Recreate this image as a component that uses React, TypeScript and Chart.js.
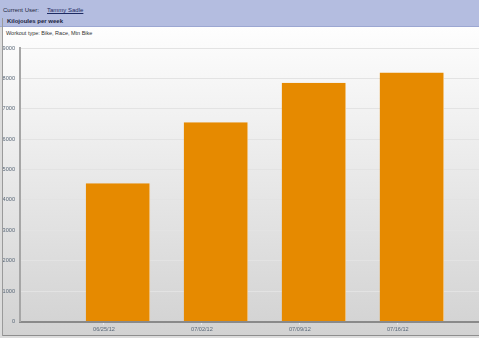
import React, { useEffect, useRef } from "react";
import { Chart, registerables } from "chart.js";

Chart.register(...registerables);

const weekLabels = ["06/25/12", "07/02/12", "07/09/12", "07/16/12"];
const kilojoules = [4550, 6560, 7860, 8190];
const weekTickDays = [7, 14, 21, 28];
const barDays = [8, 15, 22, 29];
const yMin = 0;
const yMax = 9000;
const yStep = 1000;

const FONT = "'Liberation Sans', Arial, sans-serif";

export default function App() {
  const ref = useRef<HTMLCanvasElement | null>(null);

  useEffect(() => {
    if (!ref.current) return;
    const chart = new Chart(ref.current, {
      type: "bar",
      data: {
        datasets: [
          {
            label: "Kilojoules",
            data: barDays.map((d, i) => ({ x: d, y: kilojoules[i] })),
            backgroundColor: "#e68a00",
            borderColor: "#f2c27a",
            borderWidth: { right: 1, top: 0, left: 0, bottom: 0 },
            borderSkipped: false,
            barPercentage: 1,
            categoryPercentage: 0.658,
          },
        ],
      },
      options: {
        responsive: false,
        animation: false,
        layout: { padding: { top: 10, right: 0, bottom: 0, left: 0 } },
        plugins: {
          legend: { display: false },
          tooltip: { enabled: false },
          title: { display: false },
        },
        scales: {
          x: {
            type: "linear",
            offset: false,
            min: 1,
            max: 33.8,
            afterBuildTicks: (scale: any) => {
              scale.ticks = weekTickDays.map((v) => ({ value: v }));
            },
            afterFit: (scale: any) => {
              scale.height = 12.5;
            },
            ticks: {
              autoSkip: false,
              maxRotation: 0,
              padding: 2,
              color: "#5a6878",
              font: { family: FONT, size: 5.6 },
              callback: (_v: any, i: number) => weekLabels[i],
            },
            grid: {
              offset: false,
              drawOnChartArea: false,
              drawTicks: true,
              tickLength: 3,
              color: "#f4f4f4",
            },
            border: { color: "#8a8a8a", width: 2 },
          },
          y: {
            min: yMin,
            max: yMax,
            afterFit: (scale: any) => {
              scale.width = 17;
            },
            ticks: {
              stepSize: yStep,
              padding: 5,
              color: "#5a6878",
              font: { family: FONT, size: 5.6 },
              callback: (v: any) => String(v),
            },
            grid: {
              drawTicks: false,
              color: "#e3e3e3",
              lineWidth: 1,
            },
            border: { color: "#a6a6a6", width: 2 },
          },
        },
      },
    });
    return () => chart.destroy();
  }, []);

  return (
    <div
      style={{
        position: "fixed",
        left: 0,
        top: 0,
        width: 479,
        height: 338,
        overflow: "hidden",
        background: "#dcdcdc",
        fontFamily: FONT,
      }}
    >
      <div
        style={{
          position: "absolute",
          left: 0,
          top: 0,
          width: 479,
          height: 26,
          background: "#b4bde0",
          borderBottom: "1px solid #9ca7d2",
        }}
      />
      <div
        style={{
          position: "absolute",
          left: 3,
          top: 6,
          fontSize: 6,
          color: "#232840",
          whiteSpace: "nowrap",
          lineHeight: "8px",
        }}
      >
        Current User:
        <span style={{ marginLeft: 8, color: "#1d2b63", textDecoration: "underline" }}>
          Tammy Sadle
        </span>
      </div>
      <div
        style={{
          position: "absolute",
          left: 7,
          top: 17,
          fontSize: 6,
          fontWeight: "bold",
          color: "#1b2442",
          whiteSpace: "nowrap",
          lineHeight: "8px",
        }}
      >
        Kilojoules per week
      </div>
      <div
        style={{
          position: "absolute",
          left: 2,
          top: 27,
          width: 477,
          height: 308,
          background: "linear-gradient(#fefefe, #d2d2d2)",
          borderBottom: "1px solid #8e8e8e",
        }}
      />
      <div
        style={{
          position: "absolute",
          left: 2,
          top: 18,
          width: 1,
          height: 318,
          background: "#9a9a9a",
        }}
      />
      <div
        style={{
          position: "absolute",
          left: 6,
          top: 29,
          fontSize: 5.5,
          color: "#333333",
          whiteSpace: "nowrap",
          lineHeight: "8px",
        }}
      >
        Workout type: Bike, Race, Mtn Bike
      </div>
      <div style={{ position: "absolute", left: 3, top: 38, width: 476, height: 296 }}>
        <canvas ref={ref} width={476} height={296} style={{ width: 476, height: 296, display: "block" }} />
      </div>
    </div>
  );
}
